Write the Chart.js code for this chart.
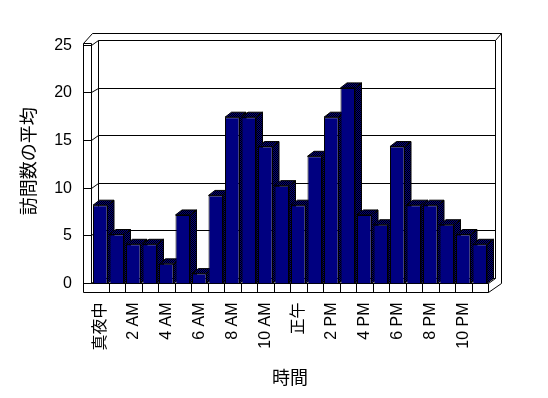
<!DOCTYPE html>
<html><head><meta charset="utf-8">
<script src="https://cdn.jsdelivr.net/npm/chart.js@4/dist/chart.umd.min.js"></script>
<style>html,body{margin:0;padding:0;background:#fff;}canvas{display:block;}</style>
</head><body>
<canvas id="c" width="548" height="398"></canvas>
<script>
const categories = ['真夜中','1 AM','2 AM','3 AM','4 AM','5 AM','6 AM','7 AM','8 AM','9 AM','10 AM','11 AM',
  '正午','1 PM','2 PM','3 PM','4 PM','5 PM','6 PM','7 PM','8 PM','9 PM','10 PM','11 PM'];
const visits = [8,5,4,4,2,7,1,9,17,17,14,10,8,13,17,20,7,6,14,8,8,6,5,4];
const yTicks = [0,5,10,15,20,25];
const xTitle = '時間';
const yTitle = '訪問数の平均';

const FONT = "'Liberation Sans', Arial, 'Noto Sans CJK JP', sans-serif";
const CJK = "'Noto Sans CJK JP', 'Liberation Sans', sans-serif";

const box3d = {
  id: 'box3d',
  beforeDatasetsDraw(chart) {
    const ctx = chart.ctx, a = chart.chartArea, ys = chart.scales.y;
    const p = v => Math.round(v) + 0.5;
    const yb = v => a.bottom - 5.5 - (a.bottom - ys.getPixelForValue(v)) * 0.973;
    const yf = v => a.bottom - 0.5 - (a.bottom - ys.getPixelForValue(v)) * 0.974;
    const OL = a.left - 9, FL = a.left - 1, BL = a.left + 6;
    const FR = a.right, BR = a.right + 7, OR = a.right + 13;
    const top = yb(yTicks[yTicks.length - 1]);
    const OT = top - 7, FB = a.bottom + 9;
    const ln = (x1, y1, x2, y2) => { ctx.beginPath(); ctx.moveTo(p(x1), p(y1)); ctx.lineTo(p(x2), p(y2)); ctx.stroke(); };
    ctx.save();
    ctx.strokeStyle = '#000'; ctx.lineWidth = 1;
    // left wall
    const lwTop = yf(yTicks[yTicks.length - 1]) - 2;
    ln(OL, lwTop, OL, FB);
    ln(FL, lwTop, FL, a.bottom);
    ln(OL, lwTop, FL, lwTop);
    ln(OL, lwTop, OL + 9, OT);
    ln(OL + 9, OT, OR, OT);
    // back wall
    ln(BL, top, BL, yb(0));
    ln(BR, top, BR, yb(0));
    ln(BR, top, OR, OT);
    ln(OR, OT, OR, a.bottom);
    // floor
    ln(BR, yb(0), FR, a.bottom);
    ln(OR, a.bottom, FR, FB);
    ln(FL, a.bottom, FR, a.bottom);
    ln(OL, FB, FR, FB);
    ln(FR, a.bottom, FR, FB);
    const n = categories.length, cw = (a.right - a.left) / n;
    for (let k = 1; k < n; k++) ln(a.left + k * cw, a.bottom, a.left + k * cw, FB);
    // gridlines, ticks, labels
    ctx.fillStyle = '#000';
    ctx.font = '16px ' + FONT;
    ctx.textAlign = 'right'; ctx.textBaseline = 'middle';
    ys.ticks.forEach(t => {
      const v = t.value;
      ln(BL, yb(v), BR, yb(v));
      ln(FL, yf(v), BL, yb(v));
      ln(OL, yf(v), FL, yf(v));
      ctx.fillText(String(v), OL - 11, Math.round(yf(v)) + 1);
    });
    // bar side and top faces
    const pc = document.createElement('canvas'); pc.width = 2; pc.height = 2;
    const g = pc.getContext('2d');
    g.fillStyle = '#000080'; g.fillRect(0, 0, 2, 2);
    g.fillStyle = '#000'; g.fillRect(0, 0, 1, 1); g.fillRect(1, 1, 1, 1);
    const pat = ctx.createPattern(pc, 'repeat');
    const dx = 6.5, dy = -5;
    chart.getDatasetMeta(0).data.forEach(bar => {
      const {x, y, base, width} = bar.getProps(['x', 'y', 'base', 'width'], true);
      const l = x - width / 2, r = x + width / 2;
      ctx.fillStyle = pat;
      ctx.beginPath();
      ctx.moveTo(r, y); ctx.lineTo(r + dx, y + dy); ctx.lineTo(r + dx, base + dy); ctx.lineTo(r, base); ctx.closePath();
      ctx.fill(); ctx.stroke();
      ctx.beginPath();
      ctx.moveTo(l, y); ctx.lineTo(l + dx, y + dy); ctx.lineTo(r + dx, y + dy); ctx.lineTo(r, y); ctx.closePath();
      ctx.fill(); ctx.stroke();
    });
    ctx.restore();
  }
};

new Chart(document.getElementById('c'), {
  type: 'bar',
  data: {
    labels: categories,
    datasets: [{
      data: visits,
      backgroundColor: '#000080',
      borderColor: '#000',
      borderWidth: 1,
      barPercentage: 0.88,
      categoryPercentage: 1.0
    }]
  },
  options: {
    responsive: false,
    animation: false,
    layout: { padding: { top: 39, right: 60, left: 0, bottom: 0 } },
    plugins: { legend: { display: false }, tooltip: { enabled: false } },
    scales: {
      x: {
        grid: { display: false, drawTicks: false },
        border: { display: false },
        ticks: {
          autoSkip: false, maxRotation: 90, minRotation: 90, padding: 19, color: '#000',
          font: { family: FONT, size: 16 },
          callback: (v, i) => (i % 2 === 0 ? categories[i] : '')
        },
        title: { display: true, text: xTitle, color: '#000', font: { family: CJK, size: 18 }, padding: { top: -3, bottom: 10 } }
      },
      y: {
        min: 0, max: yTicks[yTicks.length - 1],
        afterBuildTicks: s => { s.ticks = yTicks.map(v => ({ value: v })); },
        ticks: { display: false },
        grid: { display: false, drawTicks: false },
        border: { display: false },
        title: { display: true, text: yTitle, color: '#000', font: { family: CJK, size: 18 }, padding: { top: 17, bottom: 53.4 } }
      }
    }
  },
  plugins: [box3d]
});
</script>
</body></html>
